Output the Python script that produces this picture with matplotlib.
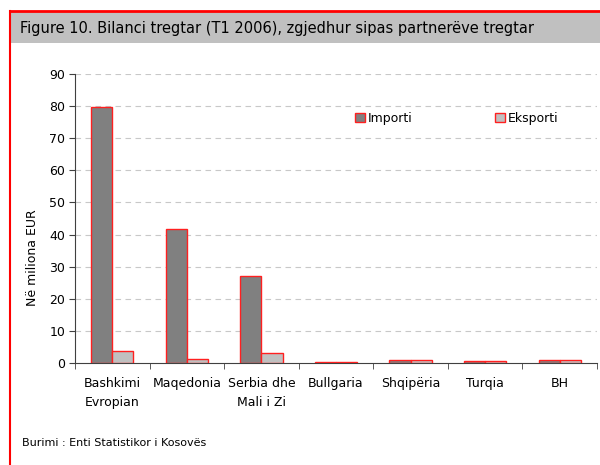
import matplotlib
matplotlib.use('Agg')
import matplotlib.pyplot as plt
import numpy as np
from matplotlib.patches import Rectangle
from matplotlib.lines import Line2D

OUT_PATH = 'out.png'

categories = ['Bashkimi\nEvropian', 'Maqedonia', 'Serbia dhe\nMali i Zi',
              'Bullgaria', 'Shqipëria', 'Turqia', 'BH']
importi = [79.8, 41.7, 27.2, 0.3, 1.0, 0.5, 1.0]
eksporti = [3.8, 1.2, 3.2, 0.3, 1.0, 0.5, 1.0]
yticks = [0, 10, 20, 30, 40, 50, 60, 70, 80, 90]

plt.rcParams['font.family'] = ['DejaVu Sans']
plt.rcParams['font.size'] = 9

fig = plt.figure(figsize=(6, 4.65), dpi=100)

# frame: red lines on top and left, grey header band
fig.add_artist(Rectangle((10 / 600, 1 - 43 / 465), 590 / 600, 31 / 465,
                         transform=fig.transFigure, facecolor='#c0c0c0',
                         edgecolor='none'))
fig.add_artist(Line2D([9.5 / 600, 1], [1 - 11 / 465, 1 - 11 / 465],
                      transform=fig.transFigure, color='red', lw=2))
fig.add_artist(Line2D([9.5 / 600, 9.5 / 600], [0, 1 - 11 / 465],
                      transform=fig.transFigure, color='red', lw=1.5))
fig.text(20 / 600, 1 - 28 / 465,
         'Figure 10. Bilanci tregtar (T1 2006), zgjedhur sipas partnerëve tregtar',
         fontsize=10.5, va='center', ha='left')

ax = fig.add_axes([75 / 600, 1 - 363 / 465, 522 / 600, 289 / 465])
x = np.arange(len(categories))
w = 0.283
ax.bar(x - w / 2, importi, w, color='#808080', edgecolor='#ff2020', linewidth=1, label='Importi', zorder=3)
ax.bar(x + w / 2, eksporti, w, color='#c0c0c0', edgecolor='#ff2020', linewidth=1, label='Eksporti', zorder=3)

ax.set_xlim(-0.5, len(categories) - 0.5)
ax.set_ylim(0, 90)
ax.set_yticks(yticks)
for v in yticks[1:]:
    ax.axhline(v, color='#c8c8c8', lw=0.8, dashes=(5, 4), zorder=1)

ax.set_xticks(x)
ax.set_xticklabels(categories, fontsize=9, linespacing=1.65)
ax.tick_params(axis='x', which='major', length=0, pad=10)
ax.set_xticks(np.arange(len(categories) + 1) - 0.5, minor=True)
ax.tick_params(axis='x', which='minor', length=4, direction='out', color='#404040')
ax.tick_params(axis='y', length=4, direction='out', color='#404040', labelsize=9, pad=3)

for s in ['top', 'right']:
    ax.spines[s].set_visible(False)
ax.spines['left'].set_color('#404040')
ax.spines['bottom'].set_color('#404040')

fig.text(33 / 600, 1 - 258 / 465, 'Në miliona EUR', rotation=90,
         va='center', ha='center', fontsize=9)

ax.legend(loc='upper left', bbox_to_anchor=(0.515, 0.908), ncol=2, frameon=False,
          handlelength=0.8, handleheight=0.8, handletextpad=0.2, columnspacing=6.6,
          fontsize=9)

fig.text(22 / 600, 1 - 443 / 465, 'Burimi : Enti Statistikor i Kosovës',
         fontsize=8, va='center', ha='left')

plt.savefig(OUT_PATH, dpi=100)
plt.close()
